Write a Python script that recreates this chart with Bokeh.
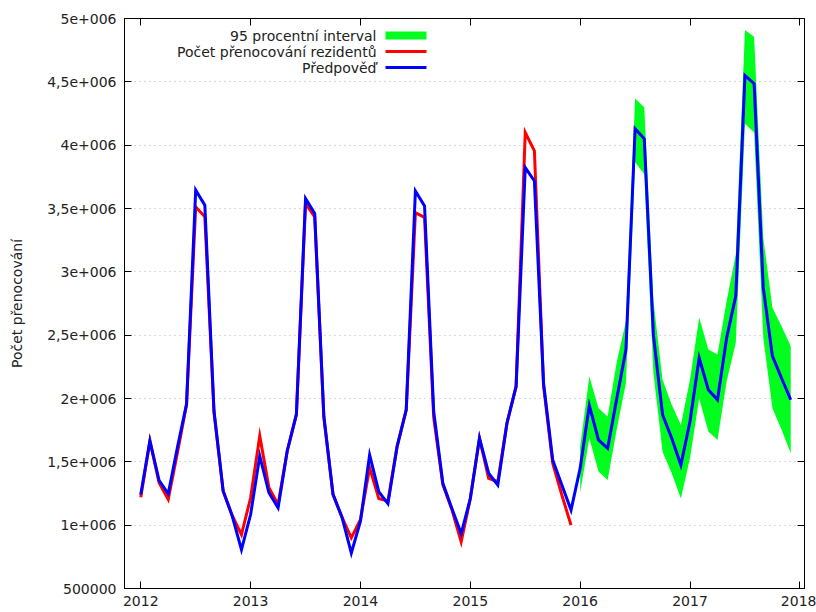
from bokeh.plotting import figure
from bokeh.models import (FixedTicker, LinearAxis, Range1d, Label, BoxAnnotation,
                          ColumnDataSource, CustomLabelingPolicy)
from bokeh.embed import file_html
from bokeh.resources import INLINE

# ---------------- data ----------------
months_actual = [f"{y}-{m:02d}" for y in range(2012, 2016) for m in range(1, 13)]
months_forecast = [f"{y}-{m:02d}" for y in range(2012, 2018) for m in range(1, 13)]
months_band = [f"{y}-{m:02d}" for y in range(2016, 2018) for m in range(1, 13)]

actual = [
    1220000, 1665000, 1335000, 1203000, 1570000, 1950000, 3513000, 3434000, 1890000, 1270000, 1075000, 926000,
    1216000, 1705000, 1296000, 1164000, 1586000, 1870000, 3540000, 3434000, 1850000, 1243000, 1060000, 900000,
    1045000, 1454000, 1210000, 1190000, 1620000, 1910000, 3467000, 3430000, 1850000, 1320000, 1120000, 868000,
    1210000, 1686000, 1370000, 1343000, 1805000, 2095000, 4100000, 3955000, 2100000, 1490000, 1237000, 1000000,
]
forecast = [
    1243000, 1665000, 1354000, 1248000, 1612000, 1956000, 3645000, 3526000, 1903000, 1270000, 1070000, 807000,
    1084000, 1546000, 1256000, 1137000, 1586000, 1876000, 3579000, 3460000, 1860000, 1243000, 1058000, 780000,
    1032000, 1554000, 1264000, 1170000, 1620000, 1910000, 3638000, 3520000, 1897000, 1330000, 1130000, 934000,
    1210000, 1686000, 1410000, 1317000, 1805000, 2095000, 3823000, 3718000, 2120000, 1515000, 1317000, 1119000,
    1450000, 1945000, 1673000, 1607000, 2000000, 2387000, 4130000, 4050000, 2500000, 1872000, 1687000, 1475000,
    1820000, 2320000, 2070000, 1990000, 2479000, 2810000, 4550000, 4486000, 2875000, 2334000, 2160000, 1990000,
]
band_upper = [
    1620000, 2175000, 1924000, 1858000, 2290000, 2611000, 4368000, 4300000, 2770000, 2149000, 1950000, 1790000,
    2150000, 2640000, 2387000, 2347000, 2770000, 3140000, 4910000, 4856000, 3270000, 2717000, 2570000, 2413000,
]
band_lower = [
    1260000, 1687000, 1423000, 1357000, 1760000, 2123000, 3866000, 3773000, 2200000, 1580000, 1410000, 1210000,
    1530000, 2000000, 1740000, 1673000, 2136000, 2440000, 4170000, 4100000, 2480000, 1924000, 1753000, 1568000,
]

year_ticks = [2012, 2013, 2014, 2015, 2016, 2017, 2018]
y_ticks = [500000, 1000000, 1500000, 2000000, 2500000, 3000000, 3500000, 4000000, 4500000, 5000000]
y_tick_labels = ["500000", "1e+006", "1,5e+006", "2e+006", "2,5e+006", "3e+006",
                 "3,5e+006", "4e+006", "4,5e+006", "5e+006"]

legend_labels = ["95 procentní interval", "Počet přenocování rezidentů", "Předpověď"]
y_label = "Počet přenocování"

GREEN = "#00ff1e"
RED = "#ff0000"
BLUE = "#0000ff"


def to_year(s):
    y, m = s.split("-")
    return int(y) + (int(m) - 1) / 12.0


src_a = ColumnDataSource(dict(x=[to_year(s) for s in months_actual], y=actual))
src_f = ColumnDataSource(dict(x=[to_year(s) for s in months_forecast], y=forecast))
src_b = ColumnDataSource(dict(x=[to_year(s) for s in months_band], lo=band_lower, hi=band_upper))

# ---------------- figure ----------------
p = figure(width=816, height=612, output_backend="svg", toolbar_location=None,
           x_range=Range1d(2011.852, 2018.042), y_range=Range1d(500000, 5000000),
           min_border_left=124, min_border_right=12, min_border_top=18, min_border_bottom=24,
           background_fill_color="white", border_fill_color="white")

p.outline_line_color = "black"
p.outline_line_width = 1

FONT = "DejaVu Sans"
FS = "14px"
TXT = "#222222"

xt = FixedTicker(ticks=year_ticks)
yt = FixedTicker(ticks=y_ticks)

ax = p.xaxis[0]
ax.ticker = xt
ax.major_label_overrides = {t: str(t) for t in year_ticks}
ay = p.yaxis[0]
ay.ticker = yt
ay.major_label_overrides = dict(zip(y_ticks, y_tick_labels))
ay.axis_label = y_label
ay.axis_label_text_font = FONT
ay.axis_label_text_font_size = FS
ay.axis_label_text_font_style = "normal"
ay.axis_label_text_color = TXT
ay.axis_label_standoff = 19

for a in (ax, ay):
    a.major_tick_in = 7
    a.major_tick_out = 0
    a.minor_tick_in = 0
    a.minor_tick_out = 0
    a.major_label_text_font = FONT
    a.major_label_text_font_size = FS
    a.major_label_text_color = TXT
    a.axis_line_color = "black"
    a.major_tick_line_color = "black"
ax.major_label_standoff = 7
ay.major_label_standoff = 8

# mirrored axes (ticks only, labels filtered out by policy)
for loc, tk in (("right", yt), ("above", xt)):
    m = LinearAxis(ticker=tk)
    m.major_tick_in = 7
    m.major_tick_out = 0
    m.minor_tick_in = 0
    m.minor_tick_out = 0
    m.major_label_policy = CustomLabelingPolicy(code="return []")
    m.major_label_text_font_size = "0px"
    m.major_label_standoff = 0
    m.axis_line_color = "black"
    m.major_tick_line_color = "black"
    p.add_layout(m, loc)

p.xgrid.visible = False
p.ygrid.ticker = yt
p.ygrid.grid_line_color = "#b4b4b4"
p.ygrid.grid_line_dash = "1 4"
p.ygrid.grid_line_width = 1

# ---------------- data marks ----------------
p.varea(x="x", y1="lo", y2="hi", source=src_b, fill_color=GREEN, fill_alpha=1.0)
p.line(x="x", y="y", source=src_a, line_color=RED, line_width=3, line_join="miter")
p.line(x="x", y="y", source=src_f, line_color=BLUE, line_width=3, line_join="miter")

# ---------------- legend (text left of swatch) ----------------
text_right = 252
rows_y = [553, 537, 521]
for lab, yy in zip(legend_labels, rows_y):
    p.add_layout(Label(x=text_right, y=yy, x_units="screen", y_units="screen", text=lab,
                       text_align="right", text_baseline="middle", text_font=FONT,
                       text_font_size=FS, text_color=TXT))
p.add_layout(BoxAnnotation(left=261, right=302, bottom=549, top=557,
                           left_units="screen", right_units="screen",
                           bottom_units="screen", top_units="screen",
                           fill_color=GREEN, fill_alpha=1.0, line_color=None))
for col, yy in ((RED, rows_y[1]), (BLUE, rows_y[2])):
    p.add_layout(BoxAnnotation(left=261, right=302, bottom=yy - 1.5, top=yy + 1.5,
                               left_units="screen", right_units="screen",
                               bottom_units="screen", top_units="screen",
                               fill_color=col, fill_alpha=1.0, line_color=None))

open("out.html", "w").write(file_html(p, INLINE))
